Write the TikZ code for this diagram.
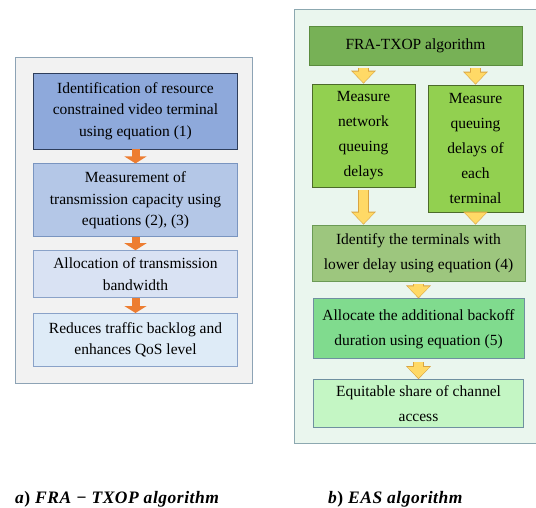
\documentclass[tikz,border=0pt]{standalone}
\usepackage{fontspec}
\setmainfont{Liberation Serif}
\usepackage{xcolor}
\usetikzlibrary{positioning,arrows.meta}

\definecolor{panelgray}{HTML}{F2F2F2}
\definecolor{panelgrayline}{HTML}{8DA3B5}
\definecolor{panelmint}{HTML}{EAF6EE}
\definecolor{panelmintline}{HTML}{8CA8B0}
\definecolor{blueA}{HTML}{8EA9DB}
\definecolor{blueAline}{HTML}{2E3E5C}
\definecolor{blueB}{HTML}{B4C7E7}
\definecolor{blueBline}{HTML}{7A95C0}
\definecolor{blueC}{HTML}{D9E2F3}
\definecolor{blueD}{HTML}{DEEBF7}
\definecolor{bluelight}{HTML}{8AA2C8}
\definecolor{greenA}{HTML}{77B156}
\definecolor{greenAline}{HTML}{5B8C3E}
\definecolor{greenB}{HTML}{92D050}
\definecolor{greenBline}{HTML}{4C6B2A}
\definecolor{greenC}{HTML}{9DC67E}
\definecolor{greenCline}{HTML}{6B9A55}
\definecolor{greenD}{HTML}{80DB8E}
\definecolor{greenE}{HTML}{C4F6C4}
\definecolor{greenline}{HTML}{6F90A0}
\definecolor{arrorange}{HTML}{ED7D31}
\definecolor{arryellow}{HTML}{FFD966}
\definecolor{arryellowline}{HTML}{D9A441}

\begin{document}
\begin{tikzpicture}[x=1pt, y=-1pt,
    lbox/.style={draw, line width=0.8pt, minimum width=204pt, align=center,
                 inner sep=2pt, font=\fontsize{15.5}{21.5}\selectfont},
    rbox/.style={draw, line width=0.8pt, align=center,
                 inner sep=2pt, font=\fontsize{15.5}{25}\selectfont},
    oarrow/.style={line width=8pt, arrorange, -{Triangle[length=7pt,width=22pt]}},
    yarrow/.style={line width=9pt, arryellow, shorten <=3pt, shorten >=1pt,
                   -{Triangle[length=11pt,width=21pt]},
                   preaction={draw=arryellowline, line width=10.6pt, shorten >=0pt,
                              -{Triangle[length=13pt,width=24pt]}}},
    capt/.style={anchor=west, inner sep=0pt,
                 font=\fontsize{17.5}{19}\selectfont\bfseries\addfontfeatures{LetterSpace=3}}
  ]
  \useasboundingbox (0,0) rectangle (536,508);

  % panels
  \draw[fill=panelgray, draw=panelgrayline, line width=0.8pt] (15,57) rectangle (252,383);
  \draw[fill=panelmint, draw=panelmintline, line width=0.8pt] (294,9) rectangle (545,443);

  % left column
  \node[lbox, fill=blueA, draw=blueAline, minimum height=76pt] (ident) at (135.5,111)
    {Identification of resource\\constrained video terminal\\using equation (1)};
  \node[lbox, fill=blueB, draw=blueBline, minimum height=73pt, below=14pt of ident] (measure)
    {Measurement of\\transmission capacity using\\equations (2), (3)};
  \node[lbox, fill=blueC, draw=bluelight, minimum height=47pt, below=13pt of measure] (alloc)
    {Allocation of transmission\\bandwidth};
  \node[lbox, fill=blueD, draw=bluelight, minimum height=53pt, below=15pt of alloc] (reduce)
    {Reduces traffic backlog and\\enhances QoS level};

  \draw[oarrow] (ident) -- (measure);
  \draw[oarrow] (measure) -- (alloc);
  \draw[oarrow] (alloc) -- (reduce);

  % right column
  \node[rbox, fill=greenA, draw=greenAline, minimum width=213pt, minimum height=39pt] (fratxop)
    at (415.5,45.5) {FRA-TXOP algorithm};
  \node[rbox, fill=greenB, draw=greenBline, minimum width=103pt, minimum height=103pt] (netdelay)
    at (363.5,135.5) {Measure\\network\\queuing\\delays};
  \node[rbox, fill=greenB, draw=greenBline, minimum width=95pt, minimum height=127pt] (termdelay)
    at (475.5,148.5) {Measure\\queuing\\delays of\\each\\terminal};
  \node[rbox, fill=greenC, draw=greenCline, minimum width=213pt, minimum height=56pt] (lowdelay)
    at (418.5,253) {Identify the terminals with\\lower delay using equation (4)};
  \node[rbox, fill=greenD, draw=greenline, minimum width=211pt, minimum height=60pt,
        below=17pt of lowdelay] (backoff)
    {Allocate the additional backoff\\duration using equation (5)};
  \node[rbox, fill=greenE, draw=greenline, minimum width=210pt, minimum height=48pt,
        below=20pt of backoff] (share)
    {Equitable share of channel\\access};

  \draw[yarrow] (fratxop.south -| netdelay.north) -- (netdelay.north);
  \draw[yarrow] (fratxop.south -| termdelay.north) -- (termdelay.north);
  \draw[yarrow] (netdelay.south) -- (netdelay.south |- lowdelay.north);
  \draw[yarrow] (termdelay.south) -- (termdelay.south |- lowdelay.north);
  \draw[yarrow] (lowdelay) -- (backoff);
  \draw[yarrow] (backoff) -- (share);

  % captions
  \node[capt] (capa) at (15,499) {\textit{a}) \textit{FRA} − \textit{TXOP algorithm}};
  \node[capt] (capb) at (328,499) {\textit{b}) \textit{EAS algorithm}};
\end{tikzpicture}
\end{document}
